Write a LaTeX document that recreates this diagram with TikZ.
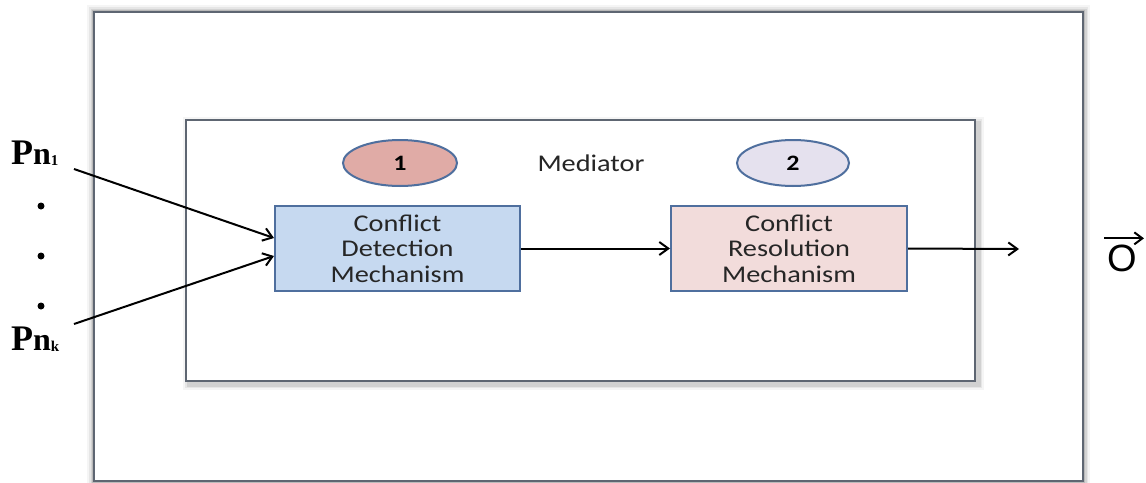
\documentclass[tikz,border=0pt]{standalone}
\usepackage{fontspec}
\setmainfont{Carlito}[FakeStretch=1.18]
\newfontfamily\serifb{Liberation Serif}
\newfontfamily\sansO{Liberation Sans}
\usetikzlibrary{arrows.meta,shapes.geometric,calc}
\definecolor{frame}{HTML}{5E6672}
\definecolor{boxedge}{HTML}{4F6F9E}
\definecolor{fillA}{HTML}{C6D9F0}
\definecolor{fillB}{HTML}{F2DCDB}
\definecolor{ellA}{HTML}{E0ABA6}
\definecolor{ellB}{HTML}{E5E1EE}
\tikzset{
  conn/.style={line width=2pt,-{Straight Barb[length=9pt,width=13pt,line width=2pt]}},
  mech/.style={draw=boxedge,line width=2pt,rectangle,minimum width=245pt,minimum height=85pt,align=center,font=\fontsize{24}{25.5}\selectfont,text=black!85,inner sep=0pt},
  ell/.style={draw=boxedge,line width=2pt,ellipse,minimum width=114pt,minimum height=46pt,font=\bfseries\fontsize{22}{24}\selectfont,inner sep=0pt},
  plabel/.style={font=\serifb\bfseries\fontsize{36}{38}\selectfont,inner sep=0pt},
  dotn/.style={circle,fill=black,minimum size=7pt,inner sep=0pt}
}
\begin{document}
\begin{tikzpicture}[x=1pt,y=-1pt]
\useasboundingbox (0,0) rectangle (1146,482);
\fill[white] (0,0) rectangle (1146,482);
% outer frame with soft shadow
\foreach \w/\o in {14/0.08,10/0.12,7/0.18,4/0.3}{
  \draw[gray,line width=\w pt,opacity=\o] (94,12) rectangle (1083,481);
}
\draw[frame,line width=2.4pt,fill=white] (94,12) rectangle (1083,481);
% inner frame with shadow
\foreach \w/\o in {12/0.08,8/0.12,5/0.2}{
  \draw[gray,line width=\w pt,opacity=\o] (189,123) rectangle (978,384);
}
\draw[frame,line width=2.4pt,fill=white] (186,120) rectangle (975,381);
\node[font=\fontsize{24}{26}\selectfont,text=black!85] (med) at (591,163) {Mediator};
\node[ell,fill=ellA] (e1) at (400,163) {1};
\node[ell,fill=ellB,minimum width=112pt] (e2) at (793,163) {2};
\node[mech,fill=fillA] (cdm) at (397.5,248.5) {Conflict\\Detection\\Mechanism};
\node[mech,fill=fillB,minimum width=236pt] (crm) at (789,248.5) {Conflict\\Resolution\\Mechanism};
% inputs
\node[plabel,anchor=base west] (p1) at (11,164) {P\fontsize{32}{34}\selectfont n\raisebox{-1pt}{\fontsize{15}{16}\selectfont 1}};
\node[plabel,anchor=base west] (pk) at (11,350) {P\fontsize{32}{34}\selectfont n\raisebox{-1pt}{\fontsize{15}{16}\selectfont k}};
\node[dotn] (d1) at (41,206) {};
\node[dotn] (d2) at (41,256) {};
\node[dotn] (d3) at (41,306) {};
\coordinate (s1) at (74,169);
\coordinate (sk) at (74,324);
\coordinate (o) at (1019,249);
\draw[conn] (s1) -- ($(cdm.west)+(0,-10.5)$);
\draw[conn] (sk) -- ($(cdm.west)+(0,7.5)$);
\draw[conn] (cdm.east) -- (crm.west);
\draw[conn] (crm.east) -- (o);
% output label
\node[font=\sansO\fontsize{38}{40}\selectfont,inner sep=0pt] (out) at (1122,258) {O};
\draw[line width=2pt,-{Straight Barb[length=8pt,width=12pt,line width=2pt]}] ($(out.north west)+(-3,-6)$) -- ($(out.north east)+(7,-6)$);
\end{tikzpicture}
\end{document}
